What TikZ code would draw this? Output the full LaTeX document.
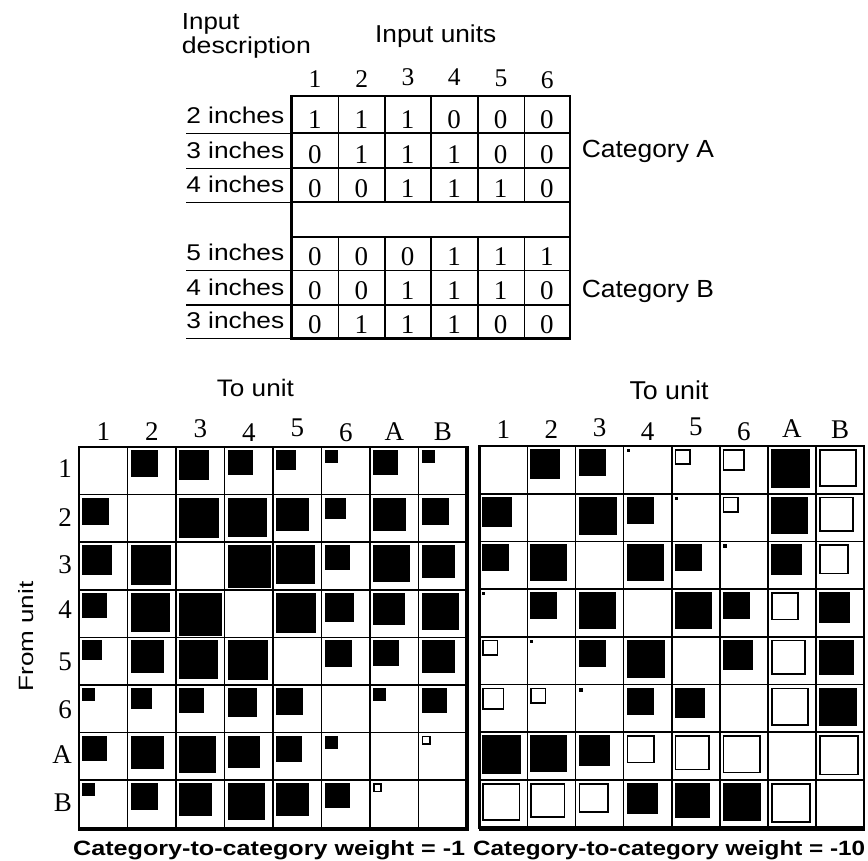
\documentclass[tikz,border=0pt]{standalone}
\usepackage{fontspec}
\usepackage{graphicx}
\setmainfont{Liberation Serif}
\newfontfamily\hv{Liberation Sans}
\newcommand{\sz}[3]{\resizebox{#1pt}{#2pt}{#3}}
\newcommand{\hintonplot}[5]{%
  \foreach \rowv [count=\ri] in {#5} {
    \foreach \v [count=\ci] in \rowv {
      \ifnum\v>0
        \fill ({#1+(\ci-1)*#3+3},{#2+(\ri-1)*#4+3}) rectangle ++(\v,\v);
      \fi
      \ifnum\v<0
        \pgfmathsetmacro{\aa}{abs(\v)-1.6}
        \draw[line width=1.6pt] ({#1+(\ci-1)*#3+3.8},{#2+(\ri-1)*#4+3.8}) rectangle ++(\aa,\aa);
      \fi
    }
  }%
}
\begin{document}
\begin{tikzpicture}[x=1pt,y=-1pt,
  lab/.style={inner sep=0pt, anchor=base west},
  num/.style={inner sep=0pt, anchor=base, font=\fontsize{27}{30}\selectfont},
  hnum/.style={inner sep=0pt, anchor=base, font=\fontsize{25.5}{30}\selectfont},
  grid/.style={line width=1.6pt},
  outer/.style={line width=2.6pt},
  uline/.style={line width=1.5pt}]
\useasboundingbox (0,0) rectangle (868,861);
\fill[white] (0,0) rectangle (868,861);

% ---------- top table ----------
\node[lab] (inp) at (181.7,30) {\sz{57.6}{16}{\hv Input}};
\node[lab] (desc) at (181.7,54) {\sz{129}{16.7}{\hv description}};
\node[lab] (iunits) at (375,42.7) {\sz{121}{17.7}{\hv Input units}};
\foreach \x/\b [count=\i] in {315/88,361.7/88,408/86,454.3/86,501/87,547.2/89}
  \node[hnum] (th\i) at (\x,\b) {\i};
% grid
\draw[outer] (291.7,96) rectangle (570,338.3);
\foreach \y in {133.3,168.3,202.3,237.3,270.7,305}
  \draw[grid] (291.7,\y) -- (570,\y);
\foreach \x in {338.3,385,431,477.7,524.3} {
  \draw[grid] (\x,96) -- (\x,202.3);
  \draw[grid] (\x,237.3) -- (\x,338.3);
}
\foreach \y in {133.3,168.3,202.3,270.7,305,338.3}
  \draw[uline] (186,\y) -- (291.7,\y);
% row labels
\foreach \t/\b [count=\i] in {2 inches/123.3,3 inches/158.3,4 inches/192.3,5 inches/260.7,4 inches/295,3 inches/328.3}
  \node[inner sep=0pt, anchor=base east] (rl\i) at (284.5,\b) {\sz{98}{16.5}{\hv \t}};
% cell values
\foreach \vals/\b [count=\r] in {{1,1,1,0,0,0}/128.3,{0,1,1,1,0,0}/163.3,{0,0,1,1,1,0}/197.3,{0,0,0,1,1,1}/265.7,{0,0,1,1,1,0}/300,{0,1,1,1,0,0}/333.3}
  \foreach \v [count=\c] in \vals
    \node[num] (cv\r\c) at ({291.7+(\c-0.5)*46.4},\b) {\v};
\node[lab] (catA) at (581.7,157.3) {\sz{132}{17.3}{\hv Category A}};
\node[lab] (catB) at (581.7,297.3) {\sz{132}{17.3}{\hv Category B}};

% ---------- left matrix ----------
\node[lab] (tuL) at (216.7,396.7) {\sz{77}{17.3}{\hv To unit}};
\foreach \t/\b [count=\i] in {1/440,2/440,3/437,4/441.7,5/436.7,6/441.7,A/440,B/440}
  \node[num] (lh\i) at ({79+(\i-0.5)*48.5},\b) {\t};
\foreach \t/\b [count=\i] in {1/477,2/526.7,3/573.3,4/618,5/670.7,6/718.3,A/763.3,B/811.7}
  \node[inner sep=0pt, anchor=base east, font=\fontsize{27}{30}\selectfont] (lr\i) at (72,\b) {\t};
\node[inner sep=0pt, anchor=base west, rotate=90] (fu) at (33,691.7) {\sz{110}{15}{\hv From unit}};
\foreach \i in {1,...,7} {
  \draw[grid] ({79+\i*48.5},447) -- ({79+\i*48.5},827.8);
  \draw[grid] (79,{447+\i*47.6}) -- (467,{447+\i*47.6});
}
\draw[outer] (79,447) rectangle (467,827.8);
\draw[line width=4pt] (467,446) -- (467,829.5);
\draw[line width=4pt] (78,829) -- (469,829);
\hintonplot{79}{447}{48.5}{47.6}{{0,27,30,25,20,13,25,13},{27,0,40,39,33,21,33,27},{30,40,0,43,39,25,37,33},{25,39,43,0,40,29,32,37},{20,33,39,40,0,27,26,33},{13,21,25,29,27,0,13,25},{25,33,37,32,26,13,0,-9},{13,27,33,37,33,25,-9,0}}

% ---------- right matrix ----------
\node[lab] (tuR) at (629.3,399) {\sz{79}{18.7}{\hv To unit}};
\foreach \t/\b [count=\i] in {1/438.3,2/438,3/436.7,4/440,5/435,6/440,A/437.3,B/438}
  \node[num] (rh\i) at ({479.3+(\i-0.5)*48.1},\b) {\t};
\foreach \i in {1,...,7} {
  \draw[grid] ({479.3+\i*48.1},446) -- ({479.3+\i*48.1},827.7);
  \draw[grid] (479.3,{446+\i*47.7}) -- (864.1,{446+\i*47.7});
}
\draw[outer] (479.3,446) rectangle (864.1,827.7);
\draw[line width=3.5pt] (478.5,829) -- (865,829);
\hintonplot{479.3}{446}{48.1}{47.7}{{0,30,27,3,-16,-22,39,-38},{30,0,38,27,3,-16,37,-35},{27,37,0,37,27,4,31,-30},{3,27,37,0,37,27,-28,31},{-16,3,27,38,0,30,-35,35},{-22,-16,4,27,30,0,-38,38},{39,37,31,-28,-35,-38,0,-40},{-38,-35,-30,31,35,38,-40,0}}

% ---------- bottom labels ----------
\node[lab] (wL) at (73,855) {\sz{392}{15}{\hv\bfseries Category-to-category weight = -1}};
\node[lab] (wR) at (473,855) {\sz{392}{15}{\hv\bfseries Category-to-category weight = -10}};
\end{tikzpicture}
\end{document}
